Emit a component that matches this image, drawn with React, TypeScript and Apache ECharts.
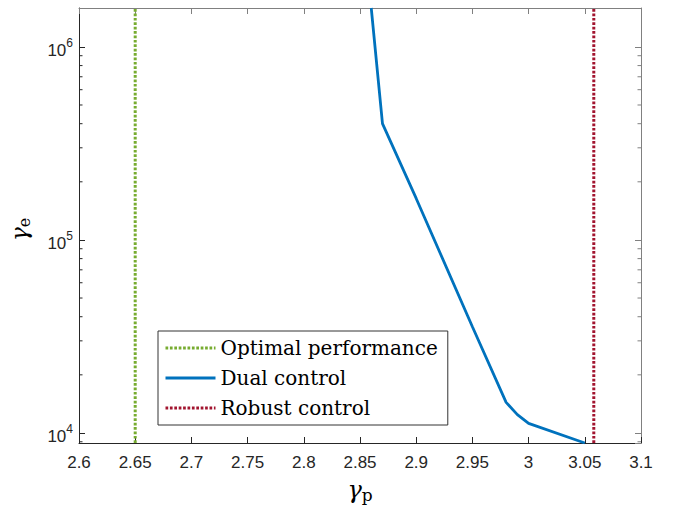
import React, { useEffect, useRef } from "react";
import * as echarts from "echarts";

const X_MIN = 2.6;
const X_MAX = 3.1;
const X_INTERVAL = 0.05;
const Y_MIN = 8870;
const Y_MAX = 1.59e6;

const dualX = [2.86, 2.87, 2.9, 2.95, 2.98, 2.99, 3.0, 3.05];
const dualY = [1.59e6, 4.0e5, 1.64e5, 3.55e4, 1.44e4, 1.245e4, 1.12e4, 8870];

const optimalX = 2.65;
const robustX = 3.058;

const minorTickValues = [
  9000,
  20000, 30000, 40000, 50000, 60000, 70000, 80000, 90000,
  200000, 300000, 400000, 500000, 600000, 700000, 800000, 900000,
];

const seriesNames = ["Optimal performance", "Dual control", "Robust control"];
const colors = ["#77AC30", "#0072BD", "#A2142F"];

const AXIS_COLOR = "#262626";
const DOT: number[] = [2.7, 1.7];

export default function App() {
  const ref = useRef<HTMLDivElement>(null);
  useEffect(() => {
    if (!ref.current) return;
    const chart = echarts.init(ref.current, undefined, { renderer: "svg" });
    const supDigits = (v: number) => Math.round(Math.log10(v));
    const option: any = {
      animation: false,
      backgroundColor: "#ffffff",
      grid: {
        left: 79,
        top: 8,
        width: 562,
        height: 435,
        containLabel: false,
        outerBoundsMode: "none",
      },
      legend: {
        orient: "vertical",
        left: 158,
        top: 331,
        data: [
          { name: seriesNames[0], lineStyle: { width: 3, type: DOT, color: colors[0] } },
          { name: seriesNames[1], lineStyle: { width: 2.9, type: "solid", color: colors[1] } },
          { name: seriesNames[2], lineStyle: { width: 3, type: DOT, color: colors[2] } },
        ],
        itemWidth: 50,
        itemHeight: 14,
        itemGap: 10,
        padding: [7, 10, 7, 6],
        backgroundColor: "#ffffff",
        borderColor: "#333333",
        borderWidth: 1,
        itemStyle: { opacity: 0 },
        textStyle: {
          fontFamily: "DejaVu Serif",
          fontSize: 20,
          color: "#000000",
        },
      },
      xAxis: [
        {
          type: "value",
          min: X_MIN,
          max: X_MAX,
          interval: X_INTERVAL,
          position: "bottom",
          axisLine: { show: true, lineStyle: { color: AXIS_COLOR, width: 1 } },
          axisTick: { show: true, inside: true, length: 6, lineStyle: { color: AXIS_COLOR } },
          splitLine: { show: false },
          axisLabel: {
            color: AXIS_COLOR,
            fontFamily: "Liberation Sans",
            fontSize: 17,
            margin: 11,
            formatter: (v: number) => String(+v.toFixed(2)),
          },
          name: "{g|γ}{s|p}",
          nameLocation: "middle",
          nameGap: 33,
          nameTextStyle: {
            rich: {
              g: { fontFamily: "DejaVu Serif", fontStyle: "italic", fontSize: 24, color: "#000" },
              s: { fontFamily: "DejaVu Serif", fontSize: 17, color: "#000", padding: [10, 0, 0, 0] },
            },
          },
        },
        {
          type: "value",
          min: X_MIN,
          max: X_MAX,
          interval: X_INTERVAL,
          position: "top",
          axisLine: { show: true, lineStyle: { color: "#808080", width: 1 } },
          axisTick: { show: true, inside: true, length: 6, lineStyle: { color: "#808080" } },
          splitLine: { show: false },
          axisLabel: { show: false },
        },
      ],
      yAxis: [
        {
          type: "log",
          logBase: 10,
          min: Y_MIN,
          max: Y_MAX,
          position: "left",
          axisLine: { show: true, lineStyle: { color: AXIS_COLOR, width: 1 } },
          axisTick: { show: true, inside: true, length: 6, lineStyle: { color: AXIS_COLOR } },
          splitLine: { show: false },
          axisLabel: {
            showMinLabel: false,
            showMaxLabel: false,
            margin: 6,
            formatter: (v: number) => {
              const e = supDigits(v);
              if (Math.abs(Math.pow(10, e) - v) / v > 1e-6) return "";
              return "{b|10}{s|" + e + "}";
            },
            rich: {
              b: { fontFamily: "Liberation Sans", fontSize: 17, color: AXIS_COLOR, padding: [8, 0, 0, 0] },
              s: { fontFamily: "Liberation Sans", fontSize: 12, color: AXIS_COLOR, padding: [0, 0, 8, 0] },
            },
          },
          name: "{g|γ}{s|e}",
          nameLocation: "middle",
          nameGap: 47,
          nameTextStyle: {
            padding: [0, 0, 0, -8],
            rich: {
              g: { fontFamily: "DejaVu Serif", fontStyle: "italic", fontSize: 23, color: "#000" },
              s: { fontFamily: "DejaVu Serif", fontSize: 16, color: "#000", padding: [10, 0, 0, 0] },
            },
          },
        },
        {
          type: "log",
          logBase: 10,
          min: Y_MIN,
          max: Y_MAX,
          position: "right",
          axisLine: { show: true, lineStyle: { color: "#808080", width: 1 } },
          axisTick: { show: true, inside: true, length: 6, lineStyle: { color: "#808080" } },
          splitLine: { show: false },
          axisLabel: { show: false },
        },
      ],
      series: [
        {
          name: seriesNames[0],
          type: "line",
          xAxisIndex: 0,
          yAxisIndex: 0,
          data: [
            [optimalX, Y_MIN],
            [optimalX, Y_MAX],
          ],
          symbol: "none",
          showSymbol: false,
          color: colors[0],
          lineStyle: { color: colors[0], width: 3, type: DOT },
          z: 3,
        },
        {
          name: seriesNames[1],
          type: "line",
          xAxisIndex: 0,
          yAxisIndex: 0,
          data: dualX.map((x, i) => [x, dualY[i]]),
          symbol: "none",
          showSymbol: false,
          color: colors[1],
          lineStyle: { color: colors[1], width: 2.8 },
          z: 3,
        },
        {
          name: seriesNames[2],
          type: "line",
          xAxisIndex: 0,
          yAxisIndex: 0,
          data: [
            [robustX, Y_MIN],
            [robustX, Y_MAX],
          ],
          symbol: "none",
          showSymbol: false,
          color: colors[2],
          lineStyle: { color: colors[2], width: 3, type: DOT },
          z: 3,
        },
        {
          name: "minorTicks",
          type: "custom",
          xAxisIndex: 0,
          yAxisIndex: 0,
          silent: true,
          data: minorTickValues.map((v) => [X_MIN, v]),
          renderItem: (params: any, api: any) => {
            const v = api.value(1);
            const l = api.coord([X_MIN, v]);
            const r = api.coord([X_MAX, v]);
            return {
              type: "group",
              children: [
                {
                  type: "line",
                  shape: { x1: l[0], y1: l[1], x2: l[0] + 3.5, y2: l[1] },
                  style: { stroke: AXIS_COLOR, lineWidth: 1 },
                },
                {
                  type: "line",
                  shape: { x1: r[0], y1: r[1], x2: r[0] - 3.5, y2: r[1] },
                  style: { stroke: "#808080", lineWidth: 1 },
                },
              ],
            };
          },
          z: 4,
        },
      ],
    };
    chart.setOption(option);
    return () => chart.dispose();
  }, []);
  return <div ref={ref} style={{ width: 678, height: 510, position: "absolute", left: 0, top: 0 }} />;
}
